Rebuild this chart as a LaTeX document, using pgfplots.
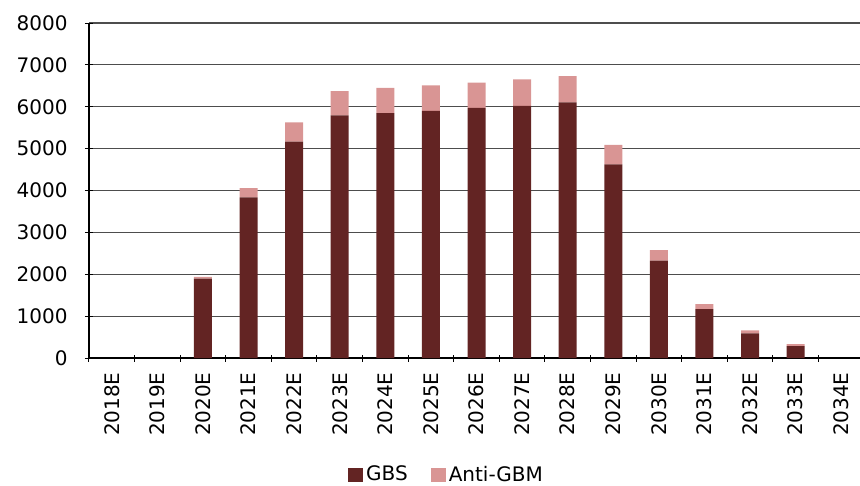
\documentclass[border=0pt]{standalone}
\usepackage{fontspec}
\setmainfont{DejaVu Sans}
\usepackage{pgfplots}
\usepackage{pgfplotstable}
\pgfplotsset{compat=1.18}

\definecolor{gbs}{HTML}{632423}
\definecolor{antigbm}{HTML}{D99594}
\definecolor{gridgray}{HTML}{4D4D4D}

% Annual patient numbers by indication (idx 0 = 2018E ... 16 = 2034E)
\pgfplotstableread{
idx  gbs   anti
0    0     0
1    0     0
2    1895  45
3    3835  222
4    5170  455
5    5792  580
6    5847  605
7    5903  605
8    5975  604
9    6022  629
10   6102  628
11   4622  469
12   2323  255
13   1169  120
14   589   72
15   286   48
16   0     0
}\datatable

\begin{document}
\fontsize{10}{12}\selectfont
\begin{tikzpicture}
\begin{axis}[
  at={(0,0)}, anchor=south west,
  scale only axis,
  width=387.5pt, height=167.5pt,
  ybar stacked, bar width=9pt,
  xmin=-0.5, xmax=16.5,
  ymin=0, ymax=8000,
  ytick={0,1000,...,8000},
  xtick={0,...,16},
  xticklabels={2018E,2019E,2020E,2021E,2022E,2023E,2024E,2025E,2026E,2027E,2028E,2029E,2030E,2031E,2032E,2033E,2034E},
  minor xtick={-0.5,0.5,...,16.5},
  major x tick style={draw=none},
  minor x tick style={draw=black, line width=0.5pt},
  major y tick style={draw=black, line width=0.5pt},
  minor tick length=3.5pt,
  major tick length=4pt,
  tick align=outside,
  axis lines=left,
  axis line style={-, draw=black, line width=0.6pt},
  ymajorgrids,
  major grid style={draw=gridgray, line width=0.6pt},
  /pgf/number format/assume math mode=true,
  /pgf/number format/1000 sep={},
  tick label style={font=\fontsize{10}{12}\selectfont, text=black},
  yticklabel style={anchor=east, inner sep=0pt, xshift=-8.5pt},
  % rotated labels: local x points upward, so a negative xshift moves them down
  xticklabel style={rotate=90, anchor=east, inner sep=0pt, xshift=-5pt},
  legend columns=2,
  legend style={draw=none, fill=none, at={(0.462,-0.349)}, anchor=center,
    font=\fontsize{10}{12}\selectfont,
    /tikz/every even column/.append style={column sep=10pt},
    nodes={inner sep=1.5pt}},
  legend image code/.code={\fill[#1] (0pt,-3.3pt) rectangle (7.5pt,3.3pt);},
]
\addplot[fill=gbs, draw=none] table[x=idx, y=gbs] {\datatable};
\addplot[fill=antigbm, draw=none] table[x=idx, y=anti] {\datatable};
\legend{GBS, Anti-GBM}
\end{axis}
\pgfresetboundingbox
\path[use as bounding box] (-44.5pt,-64pt) rectangle (385.5pt,179pt);
\end{tikzpicture}
\end{document}
